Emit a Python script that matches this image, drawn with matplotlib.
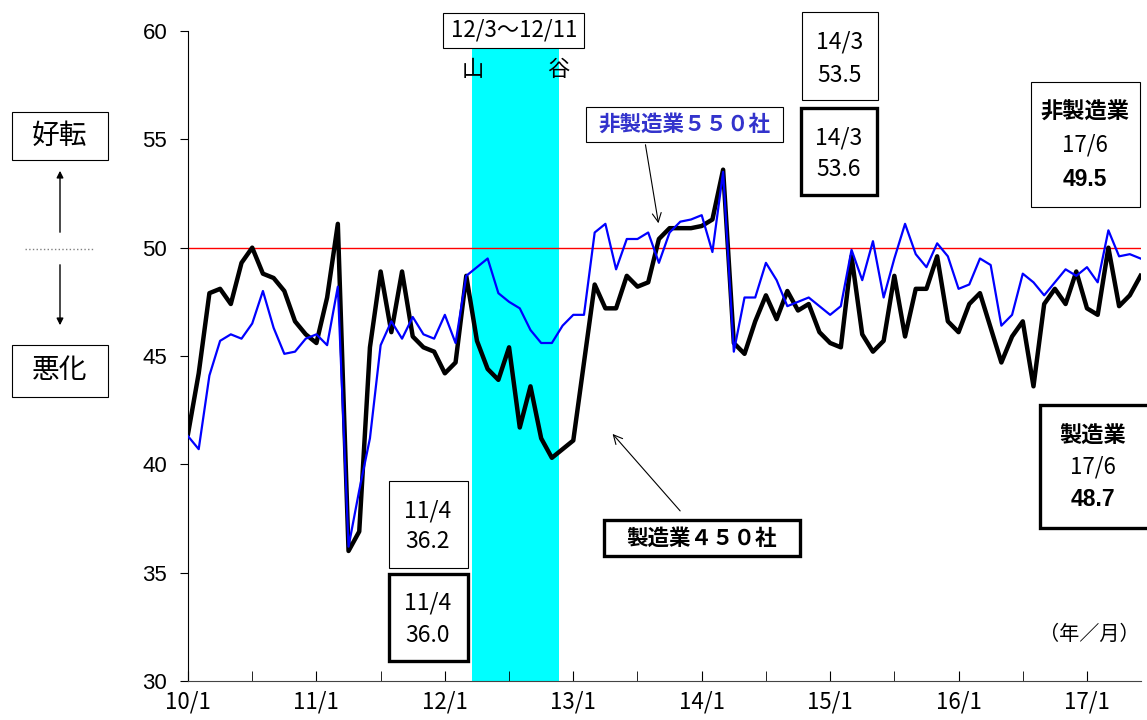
import matplotlib.pyplot as plt
from matplotlib.patches import Rectangle
from matplotlib.lines import Line2D
import numpy as np

plt.rcParams['font.family'] = ['Noto Sans CJK JP', 'DejaVu Sans']

W, H = 1147, 720

# ---- data: monthly DI, 2010/1 .. 2017/6 ----
manufacturing = [
    41.4, 44.2, 47.9, 48.1, 47.4, 49.3, 50.0, 48.8, 48.6, 48.0, 46.6, 46.0,
    45.6, 47.7, 51.1, 36.0, 36.9, 45.4, 48.9, 46.1, 48.9, 45.9, 45.4, 45.2,
    44.2, 44.7, 48.7, 45.7, 44.4, 43.9, 45.4, 41.7, 43.6, 41.2, 40.3, 40.7,
    41.1, 44.7, 48.3, 47.2, 47.2, 48.7, 48.2, 48.4, 50.4, 50.9, 50.9, 50.9,
    51.0, 51.3, 53.6, 45.6, 45.1, 46.6, 47.8, 46.7, 48.0, 47.1, 47.4, 46.1,
    45.6, 45.4, 49.6, 46.0, 45.2, 45.7, 48.7, 45.9, 48.1, 48.1, 49.6, 46.6,
    46.1, 47.4, 47.9, 46.3, 44.7, 45.9, 46.6, 43.6, 47.4, 48.1, 47.4, 48.9,
    47.2, 46.9, 50.0, 47.3, 47.8, 48.7,
]
non_manufacturing = [
    41.3, 40.7, 44.1, 45.7, 46.0, 45.8, 46.5, 48.0, 46.3, 45.1, 45.2, 45.8,
    46.0, 45.5, 48.2, 36.2, 38.8, 41.2, 45.5, 46.6, 45.8, 46.8, 46.0, 45.8,
    46.9, 45.6, 48.7, 49.1, 49.5, 47.9, 47.5, 47.2, 46.2, 45.6, 45.6, 46.4,
    46.9, 46.9, 50.7, 51.1, 49.0, 50.4, 50.4, 50.7, 49.3, 50.7, 51.2, 51.3,
    51.5, 49.8, 53.5, 45.2, 47.7, 47.7, 49.3, 48.5, 47.3, 47.5, 47.7, 47.3,
    46.9, 47.3, 49.9, 48.5, 50.3, 47.7, 49.5, 51.1, 49.7, 49.1, 50.2, 49.6,
    48.1, 48.3, 49.5, 49.2, 46.4, 46.9, 48.8, 48.4, 47.8, 48.4, 49.0, 48.7,
    49.1, 48.4, 50.8, 49.6, 49.7, 49.5,
]
year_labels = ['10/1', '11/1', '12/1', '13/1', '14/1', '15/1', '16/1', '17/1']
peak_month, trough_month = 26, 34   # 12/3 and 12/11, counted from 10/1
threshold = 50

months = np.arange(len(manufacturing))

fig = plt.figure(figsize=(W / 100, H / 100), dpi=100)
ax = fig.add_axes([188 / W, 1 - 681 / H, (1140.5 - 188) / W, (681 - 31) / H])

ax.axvspan(peak_month + 0.55, trough_month + 0.65, color='#00ffff', lw=0, zorder=0)
ax.axhline(threshold, color='red', lw=1, zorder=1)
ax.plot(months, manufacturing, color='black', lw=3.2, zorder=2)
ax.plot(months, non_manufacturing, color='#0000ff', lw=1.6, zorder=3)

ax.set_xlim(0, len(months) - 1)
ax.set_ylim(30, 60)
for side in ['top', 'right']:
    ax.spines[side].set_visible(False)
ax.spines['bottom'].set_color('#444444')

ax.set_yticks(range(30, 61, 5))
ax.set_yticklabels([str(v) for v in range(30, 61, 5)], fontfamily='Liberation Sans', fontsize=16)
ax.tick_params(axis='y', direction='out', length=6, pad=9)

ax.set_xticks(np.arange(0, len(months), 12))
ax.set_xticks(np.arange(6, len(months), 12), minor=True)
ax.set_xticklabels(year_labels, fontsize=16)
ax.tick_params(axis='x', which='both', direction='in', length=7, pad=7)


def frame(x0, y0, x1, y1, lw=0.8):
    fig.add_artist(Rectangle((x0 / W, 1 - y1 / H), (x1 - x0) / W, (y1 - y0) / H,
                             transform=fig.transFigure, facecolor='white',
                             edgecolor='black', lw=lw, zorder=5))


def put(x, y, s, **kw):
    fig.text(x / W, 1 - y / H, s, ha='center', va='center', zorder=6, **kw)


# recession band labels
frame(443, 13, 584, 48)
put(514, 30, '12/3～12/11', fontsize=16)
put(473, 69, '山', fontsize=16)
put(558, 69, '谷', fontsize=16)

# series labels with arrows
frame(586, 107, 783, 142)
put(684, 124, '非製造業５５０社', fontsize=15.5, fontweight='bold', color='#3333cc')
ax.annotate('', xy=(44, 51.0), xytext=(645, H - 142), textcoords='figure pixels',
            arrowprops=dict(arrowstyle='->', lw=0.8, color='black', mutation_scale=16))

frame(604, 520, 800, 556, lw=2.4)
put(702, 538, '製造業４５０社', fontsize=15.5, fontweight='bold')
ax.annotate('', xy=(39.5, 41.5), xytext=(682, H - 513), textcoords='figure pixels',
            arrowprops=dict(arrowstyle='->', lw=0.8, color='black', mutation_scale=16))

# peak / trough values
frame(802, 12, 878, 100)
put(840, 42, '14/3', fontsize=16.5)
put(840, 75, f'{max(non_manufacturing):.1f}', fontsize=16.5)
frame(801, 108, 877, 195, lw=2.4)
put(839, 138, '14/3', fontsize=16.5)
put(839, 169, f'{max(manufacturing):.1f}', fontsize=16.5)

frame(389, 481, 468, 568)
put(428, 511, '11/4', fontsize=16.5)
put(428, 541, f'{min(non_manufacturing):.1f}', fontsize=16.5)
frame(389, 574, 468, 661, lw=2.4)
put(428, 603, '11/4', fontsize=16.5)
put(428, 635, f'{min(manufacturing):.1f}', fontsize=16.5)

# latest values
frame(1031, 82, 1140, 207)
put(1085, 112, '非製造業', fontsize=16, fontweight='bold')
put(1085, 145, '17/6', fontsize=16)
put(1085, 180, f'{non_manufacturing[-1]:.1f}', fontsize=16.5, fontweight='bold',
    fontfamily='Liberation Sans')
frame(1040, 405, 1152, 528, lw=2.4)
put(1093, 436, '製造業', fontsize=16, fontweight='bold')
put(1093, 467, '17/6', fontsize=16)
put(1093, 500, f'{manufacturing[-1]:.1f}', fontsize=16.5, fontweight='bold',
    fontfamily='Liberation Sans')

put(1089, 634, '（年／月）', fontsize=14.5)

# better / worse legend on the left
frame(12, 112, 108, 160)
put(60, 136, '好転', fontsize=20)
frame(12, 345, 108, 397)
put(60, 370, '悪化', fontsize=20)
ax.annotate('', xy=(60, H - 168), xycoords='figure pixels', xytext=(60, H - 235),
            textcoords='figure pixels', annotation_clip=False,
            arrowprops=dict(arrowstyle='-|>', lw=1, color='black', mutation_scale=10))
ax.annotate('', xy=(60, H - 328), xycoords='figure pixels', xytext=(60, H - 262),
            textcoords='figure pixels', annotation_clip=False,
            arrowprops=dict(arrowstyle='-|>', lw=1, color='black', mutation_scale=10))
fig.add_artist(Line2D([25 / W, 94 / W], [1 - 249 / H] * 2, transform=fig.transFigure,
                      color='gray', lw=1, ls=':'))

fig.savefig('out.png', dpi=100)
